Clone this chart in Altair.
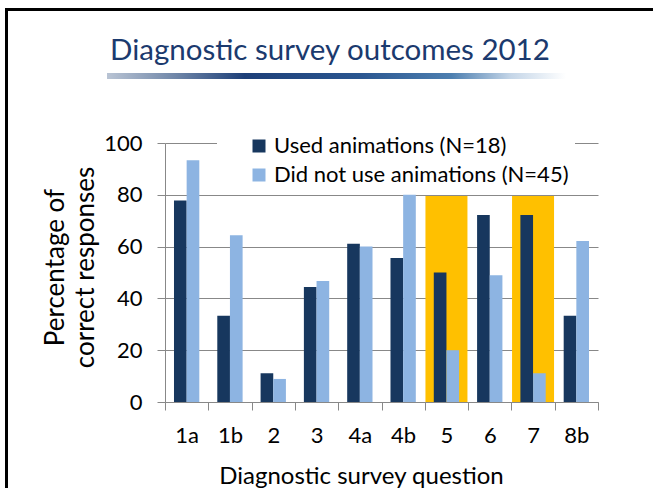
import altair as alt
import pandas as pd

# ---- data ----
questions = ["1a", "1b", "2", "3", "4a", "4b", "5", "6", "7", "8b"]
used_animations = [77.8, 33.3, 11.1, 44.4, 61.1, 55.6, 50.0, 72.2, 72.2, 33.3]
no_animations = [93.3, 64.4, 8.9, 46.7, 60.0, 80.0, 20.0, 48.9, 11.1, 62.2]
series_names = ["Used animations (N=18)", "Did not use animations (N=45)"]
highlighted_questions = ["5", "7"]
highlight_level = [79.5, 79.5]
y_ticks = [0, 20, 40, 60, 80, 100]

title_text = ["Diagnostic survey outcomes 2012"]
x_title = "Diagnostic survey question"
y_title = ["Percentage of", "correct responses"]

FONT = "Lato"
DARK = "#17375E"
LIGHT = "#8DB4E2"
YELLOW = "#FFC000"
GRID = "#888888"
TITLE_BLUE = "#1B3A6E"

rows = []
for q, u, n in zip(questions, used_animations, no_animations):
    rows.append({"question": q, "series": series_names[0], "value": u})
    rows.append({"question": q, "series": series_names[1], "value": n})
df = pd.DataFrame(rows)
hl = pd.DataFrame({"question": highlighted_questions, "value": highlight_level})

x_scale = alt.Scale(domain=questions, paddingInner=0, paddingOuter=0)
y_scale = alt.Scale(domain=[0, 100])

x_axis = alt.Axis(
    tickBand="extent", tickSize=8, tickColor=GRID, domainColor=GRID,
    labelAngle=0, labelFont=FONT, labelFontSize=22, labelColor="black", labelPadding=15,
    grid=False, title=x_title, titleFont=FONT, titleFontSize=24, titleFontWeight="normal",
    titleColor="black", titleX=196, titleY=81, titleBaseline="alphabetic", titleAlign="center",
)
y_axis = alt.Axis(
    values=y_ticks, tickSize=8, tickColor=GRID, domainColor=GRID, gridColor=GRID,
    labelFont=FONT, labelFontSize=22, labelColor="black", labelPadding=15,
    title=y_title, titleFont=FONT, titleFontSize=26, titleFontWeight="normal",
    titleColor="black", titleLineHeight=30, titleX=-97, titleY=124, titleAlign="center",
)

highlight = alt.Chart(hl).mark_bar(color=YELLOW, width=alt.RelativeBandSize(0.97)).encode(
    x=alt.X("question:N", scale=x_scale, sort=questions, axis=x_axis),
    y=alt.Y("value:Q", scale=y_scale, axis=y_axis),
)

bars = alt.Chart(df).mark_bar().encode(
    x=alt.X("question:N", scale=x_scale, sort=questions, axis=x_axis),
    xOffset=alt.XOffset("series:N", sort=series_names,
                        scale=alt.Scale(domain=series_names, paddingInner=0, paddingOuter=0.71)),
    y=alt.Y("value:Q", scale=y_scale, axis=y_axis),
    color=alt.Color(
        "series:N", sort=series_names,
        scale=alt.Scale(domain=series_names, range=[DARK, LIGHT]),
        legend=alt.Legend(
            orient="none", legendX=52, legendY=-14, title=None, fillColor="white",
            symbolType="square", symbolSize=169, symbolStrokeWidth=0, symbolOffset=25,
            labelFont=FONT, labelFontSize=22, labelColor="black", labelLimit=0,
            rowPadding=7, padding=6, labelOffset=4,
        ),
    ),
)

title_df = pd.DataFrame({"t": title_text})
title = alt.Chart(title_df).mark_text(
    font=FONT, fontSize=29.5, color=TITLE_BLUE, align="left", baseline="alphabetic"
).encode(text="t:N", x=alt.value(-55), y=alt.value(-83))

one = pd.DataFrame({"k": [0]})
band = alt.Chart(one).mark_rect(
    color=alt.LinearGradient(
        gradient="linear", x1=0, x2=1, y1=0, y2=0,
        stops=[
            alt.GradientStop(offset=0.0, color="#b9c4d4"),
            alt.GradientStop(offset=0.15, color="#6f86a8"),
            alt.GradientStop(offset=0.3, color="#1d3f78"),
            alt.GradientStop(offset=0.55, color="#2a5690"),
            alt.GradientStop(offset=0.75, color="#4d7fb0"),
            alt.GradientStop(offset=0.88, color="#c5d6e8"),
            alt.GradientStop(offset=1.0, color="#ffffff"),
        ],
    )
).encode(x=alt.value(-58), x2=alt.value(401), y=alt.value(-70), y2=alt.value(-64))

top_border = alt.Chart(one).mark_rect(color="black").encode(
    x=alt.value(-160), x2=alt.value(490), y=alt.value(-135), y2=alt.value(-132)
)
left_border = alt.Chart(one).mark_rect(color="black").encode(
    x=alt.value(-160), x2=alt.value(-157), y=alt.value(-135), y2=alt.value(345)
)

chart = alt.layer(highlight, bars, band, title, top_border, left_border).properties(
    width=433, height=259,
    autosize=alt.AutoSizeParams(type="none"),
    padding={"left": 165, "top": 143, "right": 55, "bottom": 86},
    background="white",
).configure_view(stroke=None)

chart.save("out.html", embed_options={"renderer": "svg", "actions": False})
